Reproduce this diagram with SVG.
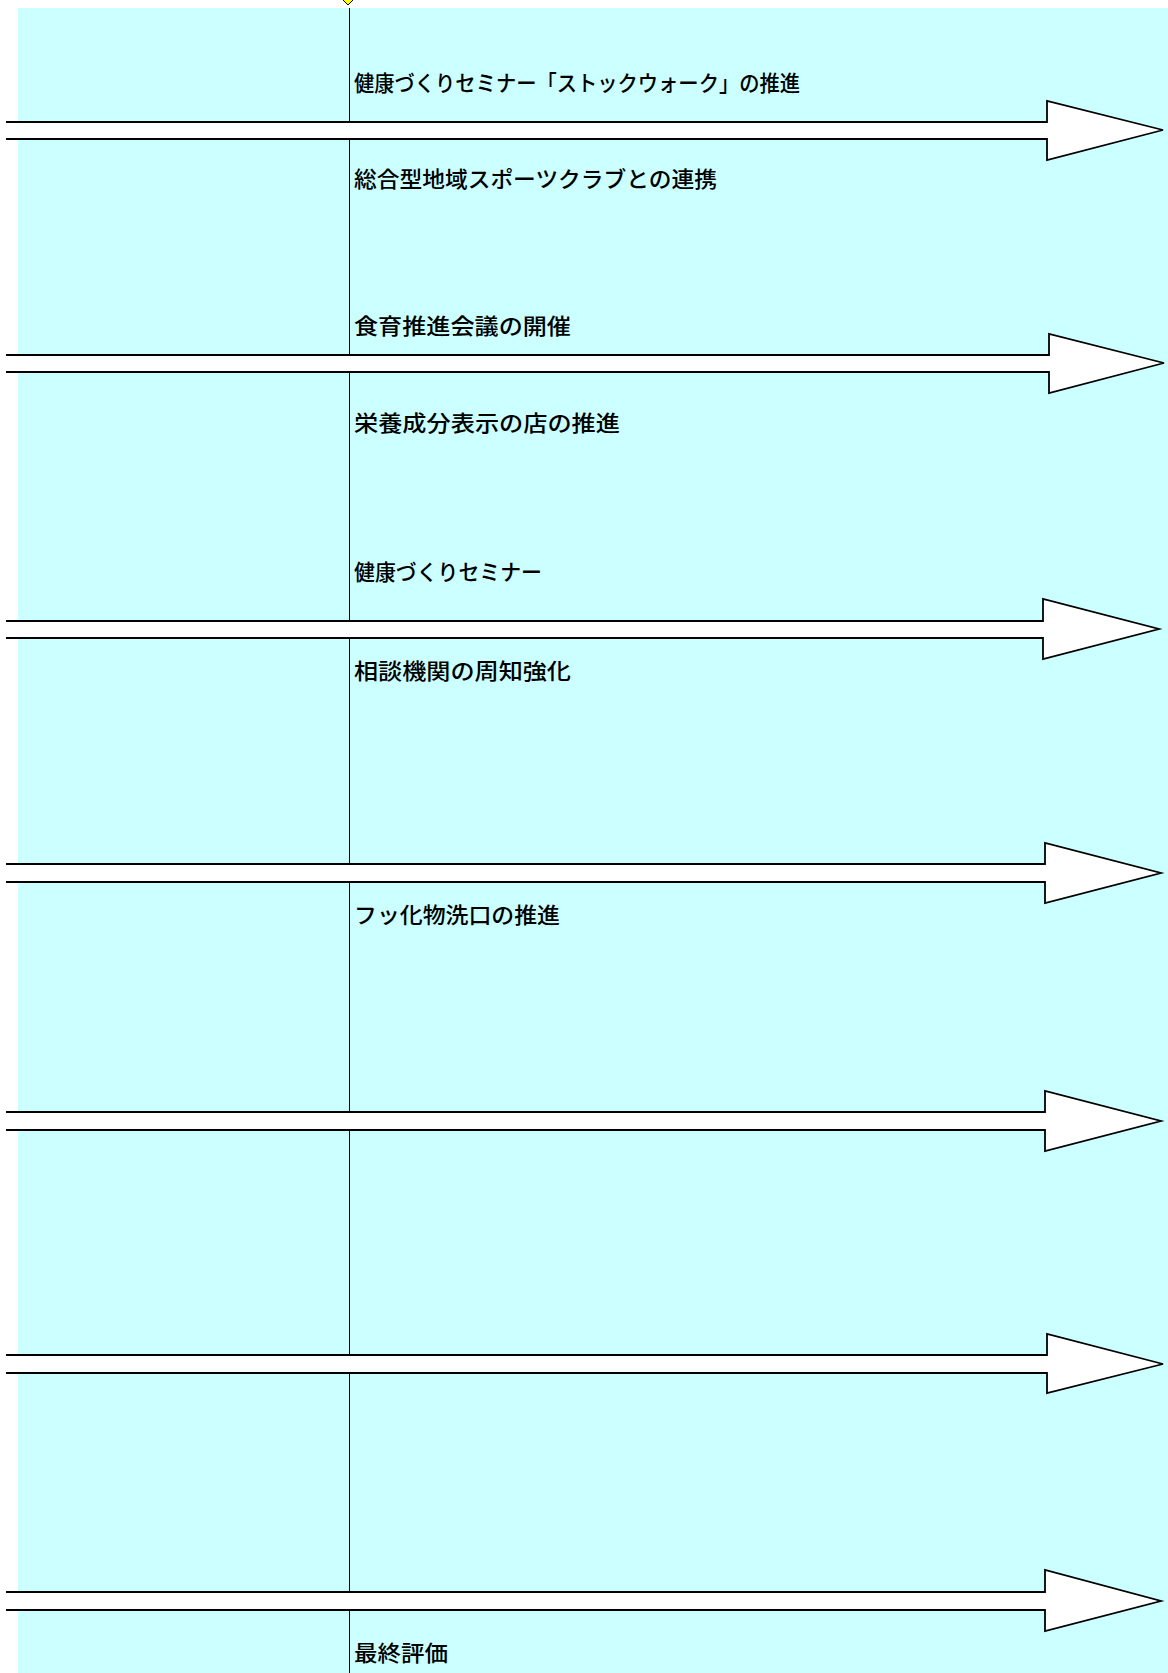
<svg xmlns="http://www.w3.org/2000/svg" width="1168" height="1673" viewBox="0 0 1168 1673">
<style>
.bg{fill:#CCFFFF;stroke:none}
.div{stroke:#000;stroke-width:1;fill:none}
.afill{fill:#fff;stroke:none}
.aline{fill:none;stroke:#000;stroke-width:1.8;stroke-linejoin:miter}
.lbl{font-family:"Noto Sans CJK JP","Liberation Sans",sans-serif;font-size:22px;font-weight:500;fill:#000}
.mark{fill:#FFFF00;stroke:#000;stroke-width:1}
</style>
<rect class="bg" x="18" y="8" width="1150" height="1665"/>
<line class="div" x1="349.5" y1="8" x2="349.5" y2="1673"/>
<polygon class="mark" points="348,-5 353,0 348,5 343,0"/>
<g id="arrows">
<g id="arrow1"><polygon class="afill" points="6,122 1047,122 1047,101 1163,130 1047,160 1047,139 6,139"/><path class="aline" d="M6,122 H1047 V101 L1163,130 L1047,160 V139 H6"/></g>
<g id="arrow2"><polygon class="afill" points="6,355 1049,355 1049,334 1164,363 1049,393 1049,372 6,372"/><path class="aline" d="M6,355 H1049 V334 L1164,363 L1049,393 V372 H6"/></g>
<g id="arrow3"><polygon class="afill" points="6,621 1043,621 1043,599 1159,629 1043,659 1043,638 6,638"/><path class="aline" d="M6,621 H1043 V599 L1159,629 L1043,659 V638 H6"/></g>
<g id="arrow4"><polygon class="afill" points="6,864 1045,864 1045,843 1161,873 1045,903 1045,882 6,882"/><path class="aline" d="M6,864 H1045 V843 L1161,873 L1045,903 V882 H6"/></g>
<g id="arrow5"><polygon class="afill" points="6,1112 1045,1112 1045,1091 1161,1121 1045,1151 1045,1130 6,1130"/><path class="aline" d="M6,1112 H1045 V1091 L1161,1121 L1045,1151 V1130 H6"/></g>
<g id="arrow6"><polygon class="afill" points="6,1355 1047,1355 1047,1334 1163,1364 1047,1393 1047,1373 6,1373"/><path class="aline" d="M6,1355 H1047 V1334 L1163,1364 L1047,1393 V1373 H6"/></g>
<g id="arrow7"><polygon class="afill" points="6,1592 1045,1592 1045,1570 1161,1601 1045,1631 1045,1610 6,1610"/><path class="aline" d="M6,1592 H1045 V1570 L1161,1601 L1045,1631 V1610 H6"/></g>
</g>
<g id="label1"><text class="lbl" x="354" y="91" textLength="446" lengthAdjust="spacingAndGlyphs">健康づくりセミナー「ストックウォーク」の推進</text></g>
<g id="label2"><text class="lbl" x="354" y="187" textLength="363" lengthAdjust="spacingAndGlyphs">総合型地域スポーツクラブとの連携</text></g>
<g id="label3"><text class="lbl" x="354" y="334" textLength="217" lengthAdjust="spacingAndGlyphs">食育推進会議の開催</text></g>
<g id="label4"><text class="lbl" x="354" y="431" textLength="266" lengthAdjust="spacingAndGlyphs">栄養成分表示の店の推進</text></g>
<g id="label5"><text class="lbl" x="354" y="580" textLength="188" lengthAdjust="spacingAndGlyphs">健康づくりセミナー</text></g>
<g id="label6"><text class="lbl" x="354" y="679" textLength="217" lengthAdjust="spacingAndGlyphs">相談機関の周知強化</text></g>
<g id="label7"><text class="lbl" x="354" y="923" textLength="206" lengthAdjust="spacingAndGlyphs">フッ化物洗口の推進</text></g>
<g id="label8"><text class="lbl" x="354" y="1661" textLength="94" lengthAdjust="spacingAndGlyphs">最終評価</text></g>
</svg>
